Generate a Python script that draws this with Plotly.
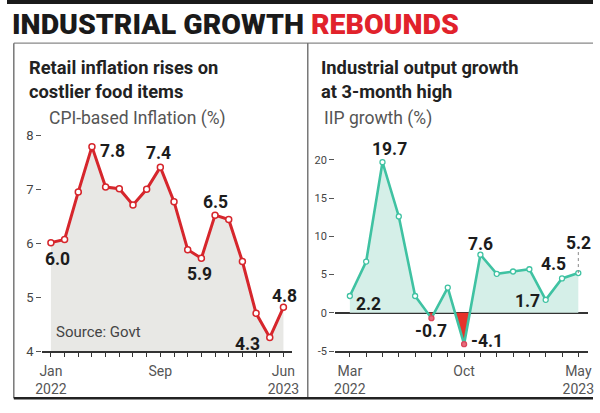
import plotly.graph_objects as go

W, H = 600, 413

# ---------------- data ----------------
cpi_months = ["Jan 2022", "Feb 2022", "Mar 2022", "Apr 2022", "May 2022", "Jun 2022",
              "Jul 2022", "Aug 2022", "Sep 2022", "Oct 2022", "Nov 2022", "Dec 2022",
              "Jan 2023", "Feb 2023", "Mar 2023", "Apr 2023", "May 2023", "Jun 2023"]
cpi_values = [6.01, 6.07, 6.95, 7.79, 7.04, 7.01, 6.71, 7.0, 7.41, 6.77, 5.88, 5.72,
              6.52, 6.44, 5.66, 4.7, 4.25, 4.81]
cpi_ticktext = ["Jan<br>2022", "", "", "", "", "", "", "", "Sep", "", "", "", "", "", "", "", "", "Jun<br>2023"]
cpi_labels = {0: "6.0", 3: "7.8", 8: "7.4", 11: "5.9", 12: "6.5", 16: "4.3", 17: "4.8"}

iip_months = ["Mar 2022", "Apr 2022", "May 2022", "Jun 2022", "Jul 2022", "Aug 2022",
              "Sep 2022", "Oct 2022", "Nov 2022", "Dec 2022", "Jan 2023", "Feb 2023",
              "Mar 2023", "Apr 2023", "May 2023"]
iip_values = [2.2, 6.7, 19.7, 12.6, 2.2, -0.7, 3.3, -4.1, 7.6, 5.1, 5.4, 5.7, 1.7, 4.5, 5.2]
iip_ticktext = ["Mar<br>2022", "", "", "", "", "", "", "Oct", "", "", "", "", "", "", "May<br>2023"]
iip_labels = {0: "2.2", 2: "19.7", 5: "-0.7", 7: "-4.1", 8: "7.6", 12: "1.7", 13: "4.5", 14: "5.2"}

# label offsets (pixels) -- styling only
cpi_off = {0: (7, -16), 3: (21, -4), 8: (-2, 14), 11: (-2, -16), 12: (0, 13), 16: (-22, -6), 17: (1, 11)}
iip_off = {0: (19, -8), 2: (7, 13), 5: (0, -13), 7: (23, 3), 8: (0, 11), 12: (-18, -1), 13: (-9, 14), 14: (0, 30)}

RED = "#d6262c"
TEAL = "#3fc2a2"
TEAL_FILL = "#d5efe8"
GRAY_FILL = "#e8e8e5"
TXT = "#1c1c1c"
AX = "#555555"
FONT = "Roboto, Liberation Sans, sans-serif"

def px_x(p):
    return p / W

def px_y(p):
    return 1 - p / H

fig = go.Figure()

xi_cpi = list(range(len(cpi_values)))
xi_iip = list(range(len(iip_values)))

# ---- left chart ----
fig.add_trace(go.Scatter(x=xi_cpi, y=cpi_values, mode="lines+markers", fill="tozeroy",
                         fillcolor=GRAY_FILL, line=dict(color=RED, width=3),
                         marker=dict(size=6, color="white", line=dict(color=RED, width=1.5)),
                         xaxis="x", yaxis="y", hoverinfo="skip", showlegend=False))

# ---- right chart: split fill at zero crossings ----
px_, py_ = [], []
for i, v in enumerate(iip_values):
    if i > 0:
        a = iip_values[i - 1]
        if (a > 0 > v) or (a < 0 < v):
            xc = (i - 1) + a / (a - v)
            px_.append(xc)
            py_.append(0)
    px_.append(i)
    py_.append(v)
pos = [max(v, 0) for v in py_]
neg = [min(v, 0) for v in py_]
fig.add_trace(go.Scatter(x=px_, y=pos, mode="lines", fill="tozeroy", fillcolor=TEAL_FILL,
                         line=dict(width=0, color=TEAL_FILL), xaxis="x2", yaxis="y2",
                         hoverinfo="skip", showlegend=False))
fig.add_trace(go.Scatter(x=px_, y=neg, mode="lines", fill="tozeroy", fillcolor="#e6332b",
                         line=dict(width=0, color="#e6332b"), xaxis="x2", yaxis="y2",
                         hoverinfo="skip", showlegend=False))
mcol = ["#e86a7a" if v < 0 else "white" for v in iip_values]
mline = ["#d9475c" if v < 0 else TEAL for v in iip_values]
fig.add_trace(go.Scatter(x=xi_iip, y=iip_values, mode="lines+markers",
                         line=dict(color=TEAL, width=2.6),
                         marker=dict(size=5, color=mcol, line=dict(color=mline, width=1.3)),
                         xaxis="x2", yaxis="y2", hoverinfo="skip", showlegend=False))

annotations = []
for i, t in cpi_labels.items():
    dx, dy = cpi_off[i]
    annotations.append(dict(x=i, y=cpi_values[i], xref="x", yref="y", text=t, showarrow=False,
                            xshift=dx, yshift=dy,
                            font=dict(family=FONT, size=17.5, color=TXT, weight="bold")))
for i, t in iip_labels.items():
    dx, dy = iip_off[i]
    annotations.append(dict(x=i, y=iip_values[i], xref="x2", yref="y2", text=t, showarrow=False,
                            xshift=dx, yshift=dy,
                            font=dict(family=FONT, size=17.5, color=TXT, weight="bold")))

# titles
annotations.append(dict(x=px_x(3), y=px_y(25), xref="paper", yref="paper", xanchor="left", yanchor="middle",
                        text="INDUSTRIAL GROWTH <span style='color:#e1222b'>REBOUNDS</span>",
                        showarrow=False, font=dict(family=FONT, size=28.5, color="#1a1a1a", weight=900)))
annotations.append(dict(x=px_x(20), y=px_y(81), xref="paper", yref="paper", xanchor="left", yanchor="middle",
                        text="Retail inflation rises on<br>costlier food items", align="left",
                        showarrow=False, font=dict(family=FONT, size=18.3, color="#222222", weight="bold")))
annotations.append(dict(x=px_x(319), y=px_y(81), xref="paper", yref="paper", xanchor="left", yanchor="middle",
                        text="Industrial output growth<br>at 3-month high", align="left",
                        showarrow=False, font=dict(family=FONT, size=18.3, color="#222222", weight="bold")))
annotations.append(dict(x=px_x(41), y=px_y(121), xref="paper", yref="paper", xanchor="left", yanchor="middle",
                        text="CPI-based Inflation (%)", showarrow=False,
                        font=dict(family=FONT, size=17.5, color="#555555")))
annotations.append(dict(x=px_x(323), y=px_y(121), xref="paper", yref="paper", xanchor="left", yanchor="middle",
                        text="IIP growth (%)", showarrow=False,
                        font=dict(family=FONT, size=17.5, color="#555555")))
annotations.append(dict(x=px_x(48), y=px_y(339), xref="paper", yref="paper", xanchor="left", yanchor="middle",
                        text="Source: Govt", showarrow=False,
                        font=dict(family=FONT, size=15, color="#444444")))

shapes = [
    dict(type="rect", xref="paper", yref="paper", x0=0, x1=1, y0=px_y(4), y1=1,
         fillcolor="#1a1a1a", line=dict(width=0)),
    dict(type="line", xref="paper", yref="paper", x0=px_x(7), x1=1, y0=px_y(44), y1=px_y(44),
         line=dict(color="#888888", width=1.2)),
    dict(type="line", xref="paper", yref="paper", x0=px_x(7), x1=px_x(7), y0=px_y(44), y1=px_y(406),
         line=dict(color="#555555", width=1.2)),
    dict(type="line", xref="paper", yref="paper", x0=px_x(308), x1=px_x(308), y0=px_y(44), y1=px_y(406),
         line=dict(color="#555555", width=1.2)),
    dict(type="line", xref="paper", yref="paper", x0=px_x(7), x1=1, y0=px_y(406), y1=px_y(406),
         line=dict(color="#222222", width=2.5)),
    dict(type="line", xref="x2", yref="y2", x0=xi_iip[-1], x1=xi_iip[-1], y0=iip_values[-1], y1=iip_values[-1] + 3.2,
         line=dict(color="#888888", width=1, dash="dot")),
]

axis_font = dict(family=FONT, size=14, color=AX)

fig.update_layout(
    width=W, height=H, margin=dict(l=0, r=0, t=0, b=0),
    paper_bgcolor="white", plot_bgcolor="rgba(0,0,0,0)",
    showlegend=False, annotations=annotations, shapes=shapes,
    xaxis=dict(domain=[px_x(36), px_x(292)], range=[-0.64, 17.64],
               tickmode="array", tickvals=xi_cpi, ticktext=cpi_ticktext,
               ticks="outside", ticklen=4, tickcolor="#333", tickwidth=1.2,
               showline=True, linecolor="#333", linewidth=1.5,
               showgrid=False, zeroline=False, tickfont=axis_font, ticklabelstandoff=2),
    yaxis=dict(domain=[px_y(358), px_y(130)], range=[4, 8.145],
               tickmode="array", tickvals=[4, 5, 6, 7, 8], ticktext=["4", "5", "6", "7", "8"],
               ticks="outside", ticklen=5, tickcolor="#555", tickwidth=1.2,
               showline=False, showgrid=False, zeroline=False,
               tickfont=dict(family=FONT, size=13, color="#444")),
    xaxis2=dict(domain=[px_x(336), px_x(595)], range=[-0.9, 14.6],
                tickmode="array", tickvals=xi_iip, ticktext=iip_ticktext,
                ticks="outside", ticklen=4, tickcolor="#333", tickwidth=1.2,
                showline=True, linecolor="#333", linewidth=1.5,
                showgrid=False, zeroline=False, tickfont=axis_font, ticklabelstandoff=2, anchor="y2"),
    yaxis2=dict(domain=[px_y(358), px_y(150)], range=[-5, 21.67], anchor="x2",
                tickmode="array", tickvals=[-5, 0, 5, 10, 15, 20],
                ticktext=["-5", "0", "5", "10", "15", "20"],
                ticks="outside", ticklen=5, tickcolor="#555", tickwidth=1.2,
                showline=False, showgrid=False, zeroline=True, zerolinecolor="#333", zerolinewidth=1.5,
                tickfont=dict(family=FONT, size=11, color="#444")),
)

fig.write_html("out.html", config={"displayModeBar": False},
               post_script="document.body.style.margin='0';document.body.style.overflow='hidden';")
